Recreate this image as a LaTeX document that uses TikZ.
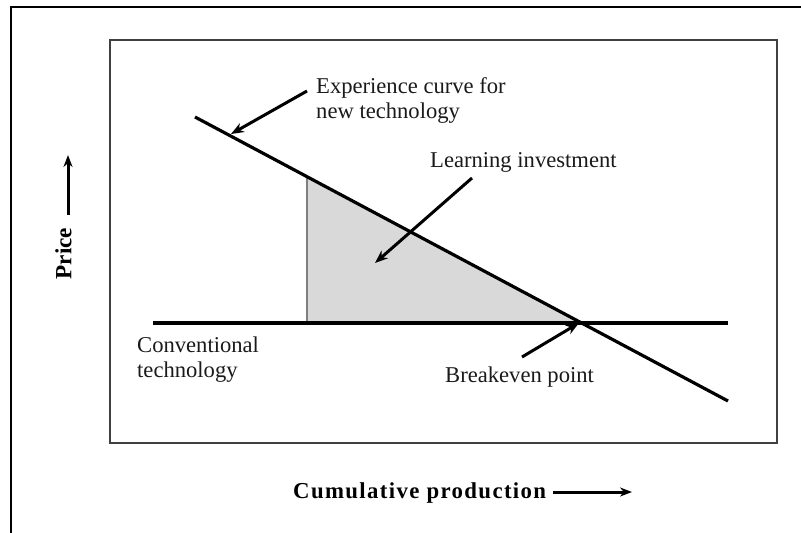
\documentclass[tikz,border=0pt]{standalone}
\usepackage{fontspec}
\setmainfont{Liberation Serif}
\newfontfamily\spacedbold[LetterSpace=6]{Liberation Serif}
\usetikzlibrary{arrows.meta}
\definecolor{shadegray}{HTML}{D9D9D9}
\definecolor{boxgray}{HTML}{404040}
\definecolor{vgray}{HTML}{7F7F7F}
\definecolor{inkgray}{HTML}{1A1A1A}
\tikzset{
  lbl/.style={inner sep=0pt, anchor=base west, align=left, text=inkgray, font=\fontsize{22.6}{25}\selectfont},
  axislbl/.style={inner sep=0pt, font=\fontsize{23.2}{25}\selectfont\bfseries},
  curve/.style={line width=3.2pt, black},
  pointer/.style={line width=3pt, -{Stealth[length=13pt,width=10pt]}},
  axisarrow/.style={line width=3pt, -{Stealth[length=12pt,width=9pt]}}
}
\begin{document}
\begin{tikzpicture}[x=1pt,y=-1pt]
\useasboundingbox (0,0) rectangle (801,533);
% outer frame (top and left edges visible)
\draw[line width=2.7pt] (11,533) -- (11,7) -- (801,7);
% inner plot box
\draw[line width=2.2pt, boxgray] (110,40) rectangle (777,443);
% key points
\coordinate (A) at (195,117);
\coordinate (B) at (728,401);
\coordinate (C) at (153,323);
\coordinate (D) at (728,323);
\coordinate (E) at (582,323);
\coordinate (F) at (307,176.7);
\coordinate (G) at (307,323);
% shaded learning investment
\fill[shadegray] (F) -- (E) -- (G) -- cycle;
\draw[line width=2pt, vgray] (G) -- (F);
% lines
\draw[curve] (C) -- (D);
\draw[curve] (A) -- (B);
% labels (base = baseline of last line)
\node[lbl] (exp) at (316,118) {Experience curve for\\new technology};
\node[lbl] (learn) at (430,167) {Learning investment};
\node[lbl] (conv) at (137,377) {Conventional\\technology};
\node[lbl] (brk) at (445,382) {Breakeven point};
% pointers
\coordinate (p1s) at (307,91);
\coordinate (p1e) at (231,134);
\draw[pointer] (p1s) -- (p1e);
\coordinate (p2s) at (472,178);
\coordinate (p2e) at (375,263);
\draw[pointer] (p2s) -- (p2e);
\coordinate (p3s) at (522,357);
\coordinate (p3e) at (579,323);
\draw[pointer] (p3s) -- (p3e);
% axis labels
\node[axislbl, rotate=90] (price) at (63.5,253.5) {Price};
\coordinate (pa1) at (68,215);
\coordinate (pa2) at (68,155);
\draw[axisarrow] (pa1) -- (pa2);
\node[inner sep=0pt, anchor=base west, font=\fontsize{22.8}{25}\selectfont\spacedbold\bfseries] (cum) at (293,498) {Cumulative production};
\coordinate (ca1) at (553,492);
\coordinate (ca2) at (632,492);
\draw[axisarrow] (ca1) -- (ca2);
\end{tikzpicture}
\end{document}
